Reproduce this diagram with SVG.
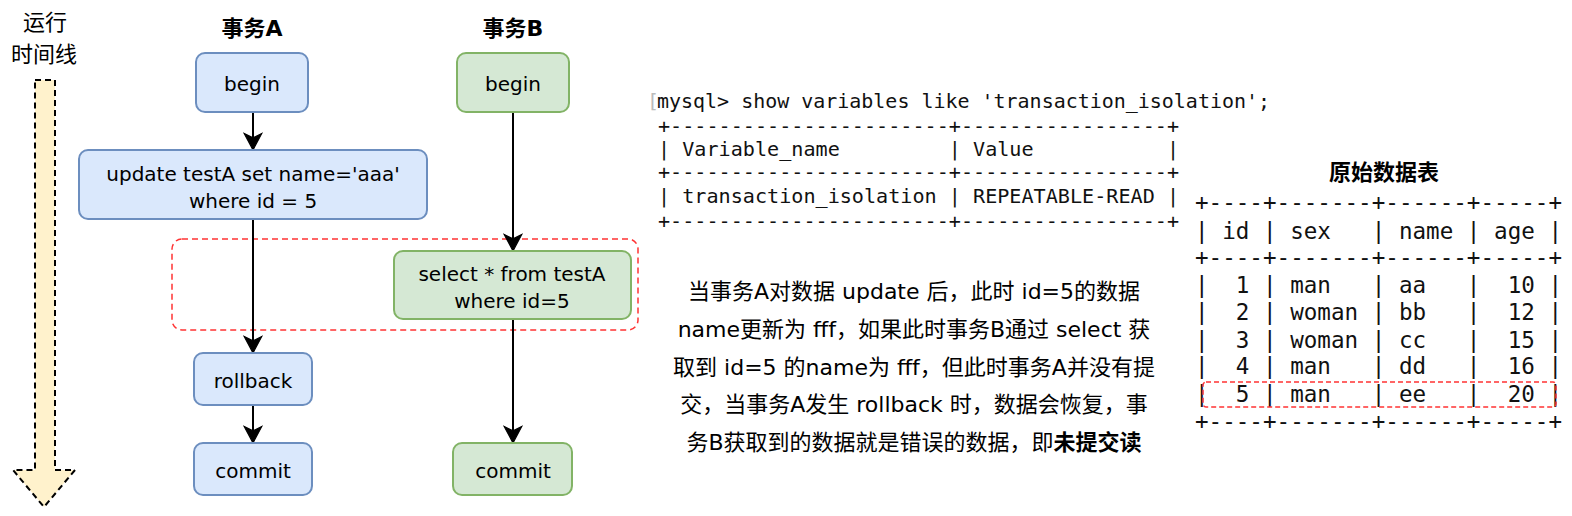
<svg xmlns="http://www.w3.org/2000/svg" width="1572" height="516" viewBox="0 0 1572 516">
<style>
.lbl{font-family:"DejaVu Sans","Noto Sans CJK SC",sans-serif;font-size:20px;fill:#000;text-anchor:middle;dominant-baseline:central}
.ttl{font-family:"DejaVu Sans","Noto Sans CJK SC",sans-serif;font-size:22px;font-weight:bold;fill:#000;text-anchor:middle;dominant-baseline:central}
.cjk{font-family:"Noto Sans CJK SC",sans-serif;font-size:22px;fill:#000;text-anchor:middle;dominant-baseline:central}
.para{font-family:"DejaVu Sans","Noto Sans CJK SC",sans-serif;font-size:22px;fill:#000;text-anchor:middle;dominant-baseline:central}
.mono1{font-family:"DejaVu Sans Mono","Liberation Mono",monospace;font-size:20px;fill:#111}
.mono2{font-family:"DejaVu Sans Mono","Liberation Mono",monospace;font-size:22.5px;fill:#111}
.blue{fill:#dae8fc;stroke:#6c8ebf;stroke-width:2}
.green{fill:#d5e8d4;stroke:#82b366;stroke-width:2}
.edge{stroke:#000;stroke-width:2;fill:none;marker-end:url(#arr)}
</style>
<defs>
<marker id="arr" markerUnits="userSpaceOnUse" markerWidth="20" markerHeight="20" viewBox="-16 -9 18 18" refX="0" refY="0" orient="auto">
<path d="M-15,-8 L0,0 L-15,8 L-11,0 Z" fill="#000" stroke="#000" stroke-width="1"/>
</marker>
</defs>

<g id="timeline">
<path d="M35,80 L55,80 L55,470 L75,470 L44,507 L13,470 L35,470 Z" fill="#fff2cc" stroke="#000" stroke-width="2" stroke-dasharray="6 4"/>
<text class="cjk" x="45" y="20">运行</text>
<text class="cjk" x="44" y="52">时间线</text>
</g>

<g id="titleA"><text class="ttl" x="252" y="28">事务A</text></g>
<g id="titleB"><text class="ttl" x="513" y="28">事务B</text></g>

<g id="dirty-region">
<rect x="172" y="239" width="466" height="91" rx="10" fill="none" stroke="#ff3333" stroke-width="1.5" stroke-dasharray="6 4"/>
</g>

<g id="connectors">
<line class="edge" x1="253" y1="112" x2="253" y2="150"/>
<line class="edge" x1="253" y1="219" x2="253" y2="353"/>
<line class="edge" x1="253" y1="405" x2="253" y2="443"/>
<line class="edge" x1="513" y1="112" x2="513" y2="251"/>
<line class="edge" x1="513" y1="319" x2="513" y2="443"/>
</g>

<g id="a-begin">
<rect class="blue" x="196" y="53" width="112" height="59" rx="9"/>
<text class="lbl" x="252" y="84">begin</text>
</g>
<g id="a-update">
<rect class="blue" x="79" y="150" width="348" height="69" rx="9"/>
<text class="lbl" x="253" y="174">update testA set name='aaa'</text>
<text class="lbl" x="253" y="201">where id = 5</text>
</g>
<g id="a-rollback">
<rect class="blue" x="194" y="353" width="118" height="52" rx="9"/>
<text class="lbl" x="253" y="381">rollback</text>
</g>
<g id="a-commit">
<rect class="blue" x="194" y="443" width="118" height="52" rx="9"/>
<text class="lbl" x="253" y="471">commit</text>
</g>

<g id="b-begin">
<rect class="green" x="457" y="53" width="112" height="59" rx="9"/>
<text class="lbl" x="513" y="84">begin</text>
</g>
<g id="b-select">
<rect class="green" x="394" y="251" width="237" height="68" rx="9"/>
<text class="lbl" x="512" y="274">select * from testA</text>
<text class="lbl" x="512" y="301">where id=5</text>
</g>
<g id="b-commit">
<rect class="green" x="453" y="443" width="119" height="52" rx="9"/>
<text class="lbl" x="513" y="471">commit</text>
</g>

<g id="mysql-output">
<text class="mono1" x="647" y="108" style="fill:#bbb">[</text>
<text class="mono1" x="657" y="108" textLength="613" lengthAdjust="spacingAndGlyphs">mysql&gt; show variables like 'transaction_isolation';</text>
<text class="mono1" x="658" y="133" textLength="521" lengthAdjust="spacingAndGlyphs" xml:space="preserve">+-----------------------+-----------------+</text>
<text class="mono1" x="658" y="156" textLength="521" lengthAdjust="spacingAndGlyphs" xml:space="preserve">| Variable_name         | Value           |</text>
<text class="mono1" x="658" y="179" textLength="521" lengthAdjust="spacingAndGlyphs" xml:space="preserve">+-----------------------+-----------------+</text>
<text class="mono1" x="658" y="203" textLength="521" lengthAdjust="spacingAndGlyphs" xml:space="preserve">| transaction_isolation | REPEATABLE-READ |</text>
<text class="mono1" x="658" y="228" textLength="521" lengthAdjust="spacingAndGlyphs" xml:space="preserve">+-----------------------+-----------------+</text>
</g>

<g id="explanation">
<text class="para" x="914" y="291">当事务A对数据 update 后，此时 id=5的数据</text>
<text class="para" x="914" y="329">name更新为 fff，如果此时事务B通过 select 获</text>
<text class="para" x="914" y="367">取到 id=5 的name为 fff，但此时事务A并没有提</text>
<text class="para" x="914" y="404">交，当事务A发生 rollback 时，数据会恢复，事</text>
<text class="para" x="914" y="442">务B获取到的数据就是错误的数据，即<tspan font-weight="bold">未提交读</tspan></text>
</g>

<g id="data-table">
<text class="ttl" x="1384" y="172">原始数据表</text>
<text class="mono2" x="1195" y="210" textLength="367" lengthAdjust="spacingAndGlyphs" xml:space="preserve">+----+-------+------+-----+</text>
<text class="mono2" x="1195" y="239" textLength="367" lengthAdjust="spacingAndGlyphs" xml:space="preserve">| id | sex   | name | age |</text>
<text class="mono2" x="1195" y="265" textLength="367" lengthAdjust="spacingAndGlyphs" xml:space="preserve">+----+-------+------+-----+</text>
<text class="mono2" x="1195" y="293" textLength="367" lengthAdjust="spacingAndGlyphs" xml:space="preserve">|  1 | man   | aa   |  10 |</text>
<text class="mono2" x="1195" y="320" textLength="367" lengthAdjust="spacingAndGlyphs" xml:space="preserve">|  2 | woman | bb   |  12 |</text>
<text class="mono2" x="1195" y="348" textLength="367" lengthAdjust="spacingAndGlyphs" xml:space="preserve">|  3 | woman | cc   |  15 |</text>
<text class="mono2" x="1195" y="374" textLength="367" lengthAdjust="spacingAndGlyphs" xml:space="preserve">|  4 | man   | dd   |  16 |</text>
<text class="mono2" x="1195" y="402" textLength="367" lengthAdjust="spacingAndGlyphs" xml:space="preserve">|  5 | man   | ee   |  20 |</text>
<text class="mono2" x="1195" y="429" textLength="367" lengthAdjust="spacingAndGlyphs" xml:space="preserve">+----+-------+------+-----+</text>
<rect x="1203" y="382" width="353" height="25" rx="3" fill="none" stroke="#ff3333" stroke-width="1.5" stroke-dasharray="5 3"/>
</g>
</svg>
